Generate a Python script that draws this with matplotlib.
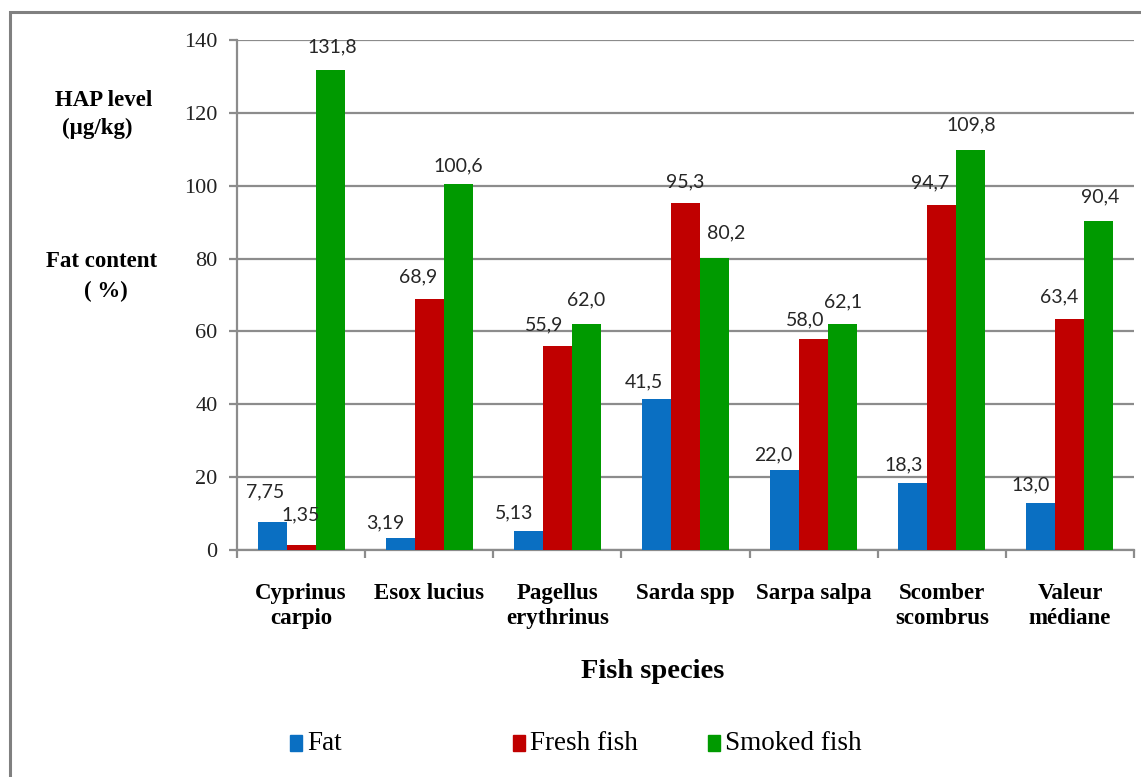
import numpy as np
import matplotlib
matplotlib.use("Agg")
import matplotlib.pyplot as plt
from matplotlib.patches import Rectangle

species = ["Cyprinus\ncarpio", "Esox lucius", "Pagellus\nerythrinus", "Sarda spp",
           "Sarpa salpa", "Scomber\nscombrus", "Valeur\nmédiane"]
fat = [7.75, 3.19, 5.13, 41.5, 22.0, 18.3, 13.0]
fresh = [1.35, 68.9, 55.9, 95.3, 58.0, 94.7, 63.4]
smoked = [131.8, 100.6, 62.0, 80.2, 62.1, 109.8, 90.4]
series_names = ["Fat", "Fresh fish", "Smoked fish"]
colors = ["#0A6FC2", "#C00000", "#009A00"]

# label nudges (pixels), like the hand-moved excel labels
nudges = [
    [(-7, 30), (-15, 16), (-14, 18), (-13, 17), (-11, 15), (-9, 18), (-10, 18)],
    [(0, 30), (-11, 22), (-13, 21), (0, 21), (-8, 19), (-12, 22), (-11, 22)],
    [(2, 23), (0, 18), (0, 24), (12, 25), (0, 22), (1, 25), (1, 24)],
]

SERIF = "Liberation Serif"
GRID = "#8C8C8C"

fig = plt.figure(figsize=(11.41, 7.77), dpi=100)
ax = fig.add_axes([237 / 1141, 1 - 550 / 777, (1134 - 237) / 1141, (550 - 40) / 777])

x = np.arange(len(species))
w = 0.226
for i, (vals, c) in enumerate(zip([fat, fresh, smoked], colors)):
    xs = x + (i - 1) * w
    ax.bar(xs, vals, width=w, color=c, zorder=3)
    for xi, v, (dx, dy) in zip(xs, vals, nudges[i]):
        txt = f"{v:.2f}" if v < 10 else f"{v:.1f}"
        ax.annotate(txt.replace(".", ","), xy=(xi, v), xytext=(dx, dy),
                    textcoords="offset pixels", ha="center", va="center",
                    fontsize=14, family="Lato", color="#262626", zorder=4)

ax.set_xlim(-0.5, len(species) - 0.5)
ax.set_ylim(0, 140)
ax.set_yticks(np.arange(0, 141, 20))
ax.yaxis.grid(True, color=GRID, linewidth=1.6, zorder=0)
ax.set_axisbelow(True)
for s in ["top", "right"]:
    ax.spines[s].set_visible(False)
for s in ["left", "bottom"]:
    ax.spines[s].set_color(GRID)
    ax.spines[s].set_linewidth(1.6)

ax.tick_params(axis="y", length=6, width=1.6, color=GRID, pad=8,
               labelsize=16, labelcolor="#222222")
for lab in ax.get_yticklabels():
    lab.set_family(SERIF)

ax.set_xticks(x)
ax.set_xticklabels(species, family=SERIF, fontweight="bold", fontsize=16.5,
                   linespacing=1.2)
ax.tick_params(axis="x", which="major", length=0, pad=24)
ax.set_xticks(np.arange(-0.5, len(species), 1), minor=True)
ax.tick_params(axis="x", which="minor", length=6, width=1.6, color=GRID)

fig.text(104 / 1141, 1 - 100 / 777, "HAP level", ha="center", va="center",
         family=SERIF, fontweight="bold", fontsize=16.5)
fig.text(97 / 1141, 1 - 128 / 777, "(µg/kg)", ha="center", va="center",
         family=SERIF, fontweight="bold", fontsize=16.5)
fig.text(102 / 1141, 1 - 262 / 777, "Fat content", ha="center", va="center",
         family=SERIF, fontweight="bold", fontsize=16.5)
fig.text(106 / 1141, 1 - 291 / 777, "( %)", ha="center", va="center",
         family=SERIF, fontweight="bold", fontsize=16.5)

fig.text(653 / 1141, 1 - 672 / 777, "Fish species", ha="center", va="center",
         family=SERIF, fontweight="bold", fontsize=20.5)

# legend drawn by hand so the spacing matches
leg_x = [290, 513, 708]
for lx, name, c in zip(leg_x, series_names, colors):
    fig.patches.append(Rectangle((lx / 1141, 1 - 751 / 777), 12 / 1141, 16 / 777,
                                 transform=fig.transFigure, color=c))
    fig.text((lx + 17) / 1141, 1 - 743 / 777, name, ha="left", va="center",
             family=SERIF, fontsize=19.5)

# outer frame
fig.patches.append(Rectangle((10 / 1141, -0.1), 1.2, 1.1 - 13 / 777 + 0.001,
                             transform=fig.transFigure, fill=False,
                             edgecolor="#808080", linewidth=2.2))

fig.savefig("out.png", dpi=100)
